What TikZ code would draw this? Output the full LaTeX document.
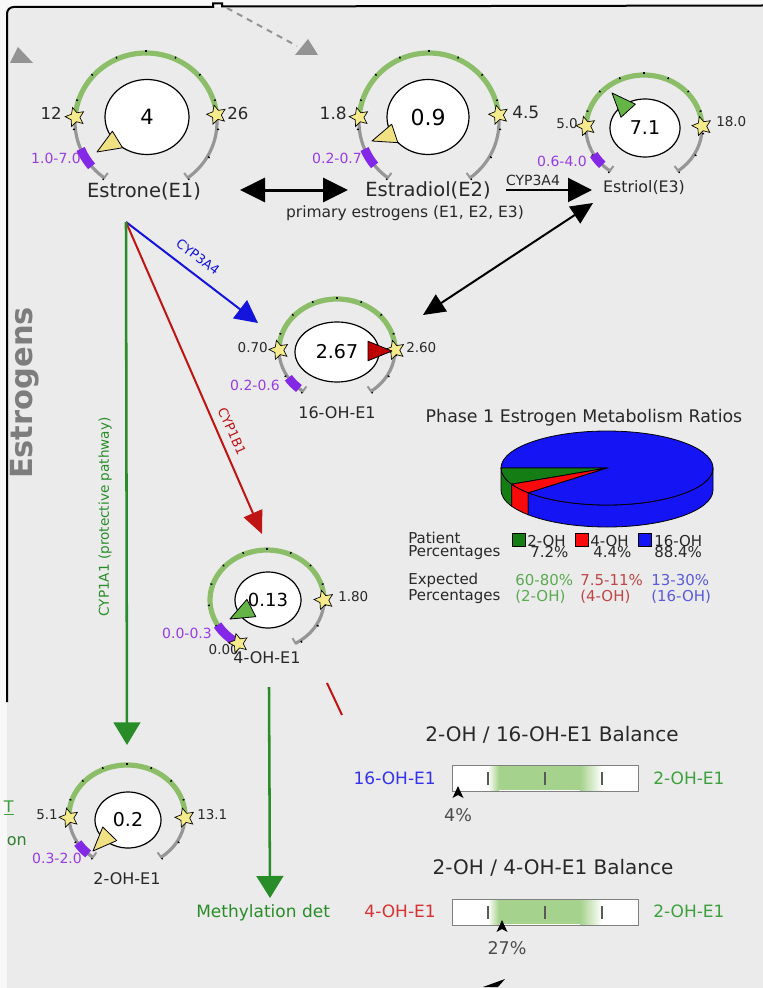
\documentclass[tikz,border=0pt]{standalone}
\usepackage{fontspec}
\setmainfont{DejaVu Sans}
\usetikzlibrary{arrows.meta,shapes.geometric,calc}
\newdimen\px \px=0.75pt
\newcommand\fpx[1]{\fontsize{\fpeval{#1*0.75}pt}{\fpeval{#1*0.9}pt}\selectfont}
\definecolor{bg}{RGB}{236,235,236}
\definecolor{outer}{RGB}{248,248,248}
\definecolor{arcG}{RGB}{140,190,105}
\definecolor{arcGr}{RGB}{150,150,150}
\definecolor{starY}{RGB}{245,235,140}
\definecolor{purp}{RGB}{130,40,230}
\definecolor{purpT}{RGB}{150,60,230}
\definecolor{ptrY}{RGB}{240,225,130}
\definecolor{ptrG}{RGB}{100,180,70}
\definecolor{ptrR}{RGB}{190,0,0}
\definecolor{txt}{RGB}{40,40,40}
\definecolor{arrB}{RGB}{20,20,220}
\definecolor{arrR}{RGB}{190,20,20}
\definecolor{arrG}{RGB}{40,140,40}
\definecolor{pieG}{RGB}{20,125,20}
\definecolor{pieR}{RGB}{250,10,10}
\definecolor{pieB}{RGB}{20,20,245}
\definecolor{expG}{RGB}{90,170,80}
\definecolor{expR}{RGB}{190,70,70}
\definecolor{expB}{RGB}{90,90,220}
\definecolor{barG}{RGB}{165,210,140}
\definecolor{labB}{RGB}{50,50,240}
\definecolor{labR}{RGB}{215,50,50}
\definecolor{labG}{RGB}{60,160,60}
\definecolor{estr}{RGB}{125,125,125}
\tikzset{
  arcgray/.style={draw=arcGr,line width=2.4pt},
  arcgreen/.style={draw=arcG,line width=3.9pt},
  gtick/.style={draw=black,line width=1pt},
  endcap/.style={draw=arcGr,line width=1.5pt},
  starnode/.style={star,star points=5,star point ratio=2.1,fill=starY,draw=black,line width=0.5pt,minimum size=15pt,inner sep=0pt,rotate=15},
  purpmark/.style={draw=purp,line width=6.75pt},
  valell/.style={ellipse,draw=black,fill=white,line width=0.9pt,inner sep=0pt,text=black},
  lab/.style={inner sep=0pt,text=txt},
  plab/.style={inner sep=0pt,text=purpT,font=\fpx{14}},
  barbox/.style={draw=gray,fill=white,line width=0.75pt,minimum width=186\px,minimum height=26\px,inner sep=0pt},
  bartick/.style={draw=black!65,line width=1.5pt},
  sq/.style={draw=black,line width=0.5pt,minimum size=13\px,inner sep=0pt},
}
\newcommand\gStart{234}
\newcommand\gEnd{-54}
% #1 prefix #2 cx #3 cy #4 rx #5 ry #6 green from #7 green to #8 purple from #9 purple to
\newcommand\gauge[9]{%
 \begin{scope}[shift={(#2,#3)},yscale=-1]
  \draw[arcgray] ({#4*cos(\gStart)},{#5*sin(\gStart)}) arc[start angle=\gStart,end angle=\gEnd,x radius=#4,y radius=#5];
  \draw[arcgreen] ({#4*cos(#6)},{#5*sin(#6)}) arc[start angle=#6,end angle=#7,x radius=#4,y radius=#5];
  \foreach \ta in {234,210,...,-54}
    \draw[gtick] ({(#4+0.5)*cos(\ta)},{(#5+0.5)*sin(\ta)}) -- ({(#4+2.5)*cos(\ta)},{(#5+2.5)*sin(\ta)});
  \foreach \ta in {\gStart,\gEnd}
    \draw[endcap] ({(#4-6)*cos(\ta)},{(#5-6)*sin(\ta)}) -- ({(#4+1)*cos(\ta)},{(#5+1)*sin(\ta)});
  \draw[purpmark] ({#4*cos(#8)},{#5*sin(#8)}) arc[start angle=#8,end angle=#9,x radius=#4,y radius=#5];
  \node[starnode] (#1a) at ({#4*cos(#6)},{#5*sin(#6)}) {};
  \node[starnode] (#1b) at ({#4*cos(#7)},{#5*sin(#7)}) {};
 \end{scope}}
% pointer: #1 colour, #2 tip, #3 arc centre
\newcommand\ptr[3]{%
 \coordinate (pT) at #2; \coordinate (pC) at #3;
 \coordinate (pB) at ($(pT)!18pt!(pC)$);
 \filldraw[fill=#1,draw=black,line width=0.6pt,line join=round] (pT) -- ($(pB)!7.3pt!90:(pT)$) -- ($(pB)!7.3pt!-90:(pT)$) -- cycle;}
\begin{document}
\begin{tikzpicture}[x=0.75pt,y=-0.75pt]
\useasboundingbox (0,0) rectangle (763,988);
\fill[outer] (0,0) rectangle (763,988);
\fill[bg] (7,7) rectangle (763,988);
\draw[line width=1.5pt,rounded corners=5pt] (7,702) -- (7,7) -- (214,7);
\draw[line width=1.5pt] (213,7) -- (213,3.5) -- (222,3.5) -- (222,6.5) -- (763,5.5);

% top grey marks
\fill[gray!85] (10,63) -- (33,63) -- (18,47) -- cycle;
\coordinate (dsA) at (227,8);
\coordinate (dsB) at (297,46);
\draw[gray!85,line width=1.5pt,dash pattern=on 4.5pt off 4pt] (dsA) -- (dsB);
\fill[gray!85] (295,55) -- (318,55) -- (308,39) -- cycle;

% ---------- Estrone
\gauge{gA}{146}{122}{71}{69}{176}{6}{203}{220}
\node[valell,minimum width=84\px,minimum height=75\px,font=\fpx{21}] (e1) at (147,117) {4};
\ptr{ptrY}{(97,152)}{(146,122)}
\node[lab,anchor=east,font=\fpx{16.5}] (gAl) at (62,113) {12};
\node[lab,anchor=west,font=\fpx{16.5}] (gAr) at (227,113) {26};
\node[plab] (gAp) at (56,158) {1.0-7.0};
\node[lab,font=\fpx{19.5}] (lE1) at (144,191) {Estrone(E1)};

% ---------- Estradiol
\gauge{gB}{429}{122}{70}{69}{176}{6}{203}{219}
\node[valell,minimum width=82\px,minimum height=75\px,font=\fpx{22}] (e2) at (428,117) {0.9};
\ptr{ptrY}{(372,141)}{(429,122)}
\node[lab,anchor=east,font=\fpx{17}] (gBl) at (347,113) {1.8};
\node[lab,anchor=west,font=\fpx{17}] (gBr) at (512,112) {4.5};
\node[plab] (gBp) at (337,158) {0.2-0.7};
\node[lab,font=\fpx{19.5}] (lE2) at (428,190) {Estradiol(E2)};

% ---------- Estriol
\gauge{gC}{644}{128}{58}{53}{178}{2}{210}{224}
\node[valell,minimum width=70\px,minimum height=58\px,font=\fpx{19}] (e3) at (645,128) {7.1};
\ptr{ptrG}{(612,93)}{(644,128)}
\node[lab,anchor=east,font=\fpx{13.5}] (gCl) at (578,124) {5.0};
\node[lab,anchor=west,font=\fpx{13.5}] (gCr) at (716,122) {18.0};
\node[plab] (gCp) at (562,161) {0.6-4.0};
\node[lab,font=\fpx{15.8}] (lE3) at (644,188) {Estriol(E3)};

% ---------- 16-OH-E1
\gauge{gD}{337}{350}{58}{51}{180}{0}{213}{229}
\node[valell,minimum width=84\px,minimum height=60\px,font=\fpx{19}] (e16) at (337,352) {2.67};
\ptr{ptrR}{(392,351)}{(337,351)}
\node[lab,anchor=east,font=\fpx{13.5}] (gDl) at (268,348) {0.70};
\node[lab,anchor=west,font=\fpx{13.5}] (gDr) at (406,348) {2.60};
\node[plab] (gDp) at (255,385) {0.2-0.6};
\node[lab,font=\fpx{16}] (l16) at (337,413) {16-OH-E1};

% ---------- 4-OH-E1
\node[lab,anchor=east,font=\fpx{13.5}] (gEl) at (239,650) {0.00};
\renewcommand\gStart{240}\renewcommand\gEnd{-60}
\gauge{gE}{267}{600}{57}{50}{240}{0}{210}{238}
\renewcommand\gStart{234}\renewcommand\gEnd{-54}
\node[valell,minimum width=66\px,minimum height=56\px,font=\fpx{18}] (e4) at (268,600) {0.13};
\ptr{ptrG}{(230,619)}{(267,600)}
\node[lab,anchor=west,font=\fpx{13.5}] (gEr) at (338,597) {1.80};
\node[plab] (gEp) at (187,633) {0.0-0.3};
\node[lab,font=\fpx{16}] (l4) at (267,658) {4-OH-E1};

% ---------- 2-OH-E1
\gauge{gF}{127}{816}{58}{51}{182}{-2}{212}{228}
\node[valell,minimum width=66\px,minimum height=56\px,font=\fpx{19}] (e2oh) at (128,820) {0.2};
\ptr{ptrY}{(93,851)}{(127,816)}
\node[lab,anchor=east,font=\fpx{13.5}] (gFl) at (58,815) {5.1};
\node[lab,anchor=west,font=\fpx{13.5}] (gFr) at (197,815) {13.1};
\node[plab] (gFp) at (57,858) {0.3-2.0};
\node[lab,font=\fpx{16}] (l2) at (127,879) {2-OH-E1};

% cut-off texts at the left edge
\node[inner sep=0pt,anchor=east,text=labG,font=\fpx{16}] (cutT) at (14,808) {\underline{T}};
\node[inner sep=0pt,anchor=east,text=labG!80!black,font=\fpx{16}] (cutOn) at (27,841) {on};

% ---------- connectors
\coordinate (src) at (126,222);
\coordinate (t16) at (258,323);
\coordinate (t4) at (262,534);
\coordinate (t2) at (127,745);
\draw[arrB,line width=1.5pt,-{Triangle[length=17pt,width=17pt]}] (src) -- (t16);
\draw[arrR,line width=1.5pt,-{Triangle[length=17pt,width=15pt]}] (src) -- (t4);
\draw[arrG,line width=1.9pt,-{Triangle[length=17pt,width=20pt]}] (src) -- (t2);
\node[inner sep=0pt,text=arrB,rotate=-37,font=\fpx{13}] (cyp3b) at (198,257) {CYP3A4};
\node[inner sep=0pt,text=arrR,rotate=-66,font=\fpx{13}] (cyp1b) at (232,431) {CYP1B1};
\node[inner sep=0pt,text=arrG,rotate=90,font=\fpx{13.6}] (cyp1a) at (105,517) {CYP1A1 (protective pathway)};

\coordinate (dA) at (240,190);
\coordinate (dB) at (348,190);
\draw[line width=2.25pt,{Triangle[length=18.75pt,width=18pt]}-{Triangle[length=18.75pt,width=18pt]}] (dA) -- (dB);
\node[lab,font=\fpx{15.5}] (prim) at (405,213) {primary estrogens (E1, E2, E3)};

\coordinate (cA) at (506,190);
\coordinate (cB) at (592,190);
\draw[line width=1.5pt,-{Triangle[length=18pt,width=18pt]}] (cA) -- (cB);
\node[lab,font=\fpx{14}] (cyp3k) at (533,180) {CYP3A4};

\coordinate (xA) at (423,315);
\coordinate (xB) at (593,203);
\draw[line width=1.5pt,{Triangle[length=16.5pt,width=15pt]}-{Triangle[length=16.5pt,width=15pt]}] (xA) -- (xB);

\coordinate (mA) at (269,687);
\coordinate (mB) at (270,898);
\draw[arrG,line width=1.9pt,-{Triangle[length=16.5pt,width=20pt]}] (mA) -- (mB);
\begin{scope}
\clip (150,890) rectangle (336,940);
\node[inner sep=0pt,anchor=west,text=arrG,font=\fpx{17}] (meth) at (196,913) {Methylation det};
\end{scope}
\coordinate (rA) at (327,683);
\coordinate (rB) at (342,715);
\draw[arrR,line width=1.5pt] (rA) -- (rB);
\fill[black] (483,987) -- (505,979) -- (498,987) -- cycle;

% "Estrogens"
\node[inner sep=0pt,rotate=90,text=estr,font=\bfseries\fpx{30.5}] (estrog) at (25,393) {Estrogens};

% ---------- pie chart
\node[lab,font=\fpx{17.4}] (pietitle) at (584,418) {Phase 1 Estrogen Metabolism Ratios};
\begin{scope}[shift={(607,468)},yscale=-1]
 \def\pRx{106}\def\pRy{37}\def\pD{22}
 \filldraw[fill=pieG,draw=black,line width=0.6pt] ({\pRx*cos(180)},{\pRy*sin(180)}) arc[start angle=180,end angle=206,x radius=\pRx,y radius=\pRy] -- ++(0,-\pD) arc[start angle=206,end angle=180,x radius=\pRx,y radius=\pRy] -- cycle;
 \filldraw[fill=pieR,draw=black,line width=0.6pt] ({\pRx*cos(206)},{\pRy*sin(206)}) arc[start angle=206,end angle=222,x radius=\pRx,y radius=\pRy] -- ++(0,-\pD) arc[start angle=222,end angle=206,x radius=\pRx,y radius=\pRy] -- cycle;
 \filldraw[fill=pieB,draw=black,line width=0.6pt] ({\pRx*cos(222)},{\pRy*sin(222)}) arc[start angle=222,end angle=360,x radius=\pRx,y radius=\pRy] -- ++(0,-\pD) arc[start angle=360,end angle=222,x radius=\pRx,y radius=\pRy] -- cycle;
 \filldraw[fill=pieB,draw=black,line width=0.6pt] (0,0) -- ({\pRx*cos(222)},{\pRy*sin(222)}) arc[start angle=222,end angle=540,x radius=\pRx,y radius=\pRy] -- cycle;
 \filldraw[fill=pieG,draw=black,line width=0.6pt] (0,0) -- ({\pRx*cos(180)},{\pRy*sin(180)}) arc[start angle=180,end angle=206,x radius=\pRx,y radius=\pRy] -- cycle;
 \filldraw[fill=pieR,draw=black,line width=0.6pt] (0,0) -- ({\pRx*cos(206)},{\pRy*sin(206)}) arc[start angle=206,end angle=222,x radius=\pRx,y radius=\pRy] -- cycle;
\end{scope}
% legend
\node[lab,anchor=west,font=\fpx{15}] (pat1) at (408,538) {Patient};
\node[lab,anchor=west,font=\fpx{15}] (pat2) at (408,553) {Percentages};
\node[sq,fill=pieG] (sqG) at (518.5,540) {};
\node[sq,fill=pieR] (sqR) at (581.5,540) {};
\node[sq,fill=pieB] (sqB) at (645,540) {};
\node[lab,anchor=west,font=\fpx{15}] (lg1) at (527,541) {2-OH};
\node[lab,anchor=west,font=\fpx{15}] (lg2) at (590,541) {4-OH};
\node[lab,anchor=west,font=\fpx{15}] (lg3) at (654,541) {16-OH};
\node[lab,anchor=west,font=\fpx{15}] (pv1) at (530,552) {7.2\%};
\node[lab,anchor=west,font=\fpx{15}] (pv2) at (593,552) {4.4\%};
\node[lab,anchor=west,font=\fpx{15}] (pv3) at (654,552) {88.4\%};
\node[lab,anchor=west,font=\fpx{15}] (exp1) at (408,580) {Expected};
\node[lab,anchor=west,font=\fpx{15}] (exp2) at (408,597) {Percentages};
\node[inner sep=0pt,anchor=west,text=expG,font=\fpx{15}] (eg1) at (515,580) {60-80\%};
\node[inner sep=0pt,anchor=west,text=expG,font=\fpx{15}] (eg2) at (515,597) {(2-OH)};
\node[inner sep=0pt,anchor=west,text=expR,font=\fpx{15}] (er1) at (580,580) {7.5-11\%};
\node[inner sep=0pt,anchor=west,text=expR,font=\fpx{15}] (er2) at (580,597) {(4-OH)};
\node[inner sep=0pt,anchor=west,text=expB,font=\fpx{15}] (eb1) at (651,580) {13-30\%};
\node[inner sep=0pt,anchor=west,text=expB,font=\fpx{15}] (eb2) at (651,597) {(16-OH)};

% ---------- balance bars
\node[lab,font=\fpx{20}] (bt1) at (552,735) {2-OH / 16-OH-E1 Balance};
\node[barbox] (bar1) at (545,778) {};
\shade[left color=white,right color=barG] (488,766) rectangle (499,790);
\fill[barG] (499,766) rectangle (580,790);
\shade[left color=barG,right color=white] (580,766) rectangle (602,790);
\foreach \xx in {488,545,602} \draw[bartick] (\xx,772) -- (\xx,785);
\fill[black] (458,786) -- (463.5,798) -- (458,795) -- (452.5,798) -- cycle;
\node[lab,text=black!70,font=\fpx{17.5}] (pc1) at (458,815) {4\%};
\node[inner sep=0pt,anchor=east,text=labB,font=\fpx{17}] (bl1) at (436,778) {16-OH-E1};
\node[inner sep=0pt,anchor=west,text=labG,font=\fpx{17}] (br1) at (653,778) {2-OH-E1};

\node[lab,font=\fpx{20}] (bt2) at (553,868) {2-OH / 4-OH-E1 Balance};
\node[barbox] (bar2) at (545,912) {};
\shade[left color=white,right color=barG] (488,900) rectangle (499,924);
\fill[barG] (499,900) rectangle (580,924);
\shade[left color=barG,right color=white] (580,900) rectangle (602,924);
\foreach \xx in {488,545,602} \draw[bartick] (\xx,906) -- (\xx,919);
\fill[black] (502,920) -- (507.5,932) -- (502,929) -- (496.5,932) -- cycle;
\node[lab,text=black!70,font=\fpx{17.5}] (pc2) at (507,948) {27\%};
\node[inner sep=0pt,anchor=east,text=labR,font=\fpx{17}] (bl2) at (436,911) {4-OH-E1};
\node[inner sep=0pt,anchor=west,text=labG,font=\fpx{17}] (br2) at (653,911) {2-OH-E1};
\end{tikzpicture}
\end{document}
